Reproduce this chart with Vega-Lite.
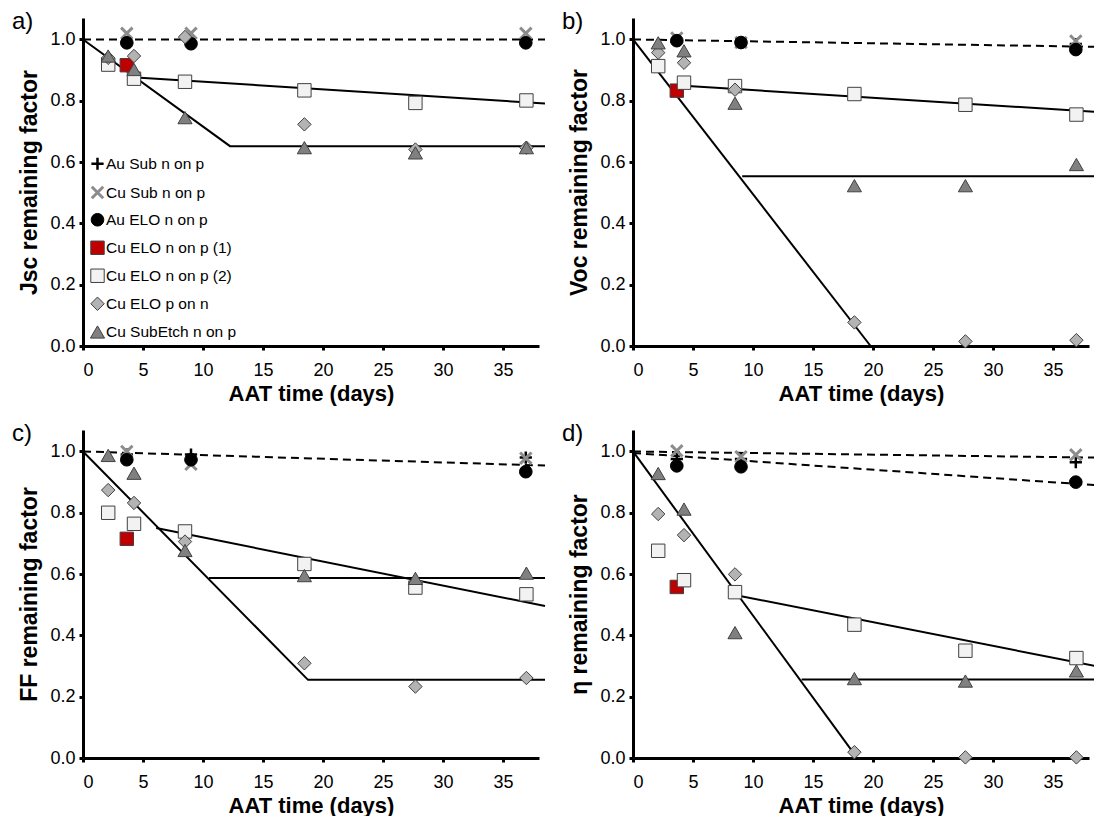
{
  "$schema": "https://vega.github.io/schema/vega-lite/v6.json",
  "background": "white",
  "padding": {"left": 12, "top": 9, "right": 0, "bottom": 0},
  "config": {
    "view": {"stroke": null},
    "font": "Liberation Sans",
    "axis": {"grid": false, "domainColor": "black", "domainWidth": 3, "tickColor": "black", "tickWidth": 3, "tickSize": 4, "labelFontSize": 18, "labelColor": "black", "labelFont": "Liberation Sans", "labelPadding": 4, "titleColor": "black", "titleFont": "Liberation Sans", "titleFontWeight": "bold"},
    "axisX": {"titlePadding": 4, "labelPadding": 11, "titleFontSize": 22},
    "axisY": {"titlePadding": 8, "titleFontSize": 23},
    "title": {"anchor": "start", "frame": "group", "fontSize": 24, "fontWeight": "normal", "font": "Liberation Sans", "color": "black", "baseline": "top", "offset": 0, "dx": -71, "dy": 19.5}
  },
  "datasets": {
    "points": [
      {"p": "a", "s": "Au Sub n on p", "t": 3.65, "v": 0.99},
      {"p": "a", "s": "Au Sub n on p", "t": 9.0, "v": 0.99},
      {"p": "a", "s": "Au Sub n on p", "t": 36.9, "v": 0.99},
      {"p": "a", "s": "Cu Sub n on p", "t": 3.65, "v": 1.02},
      {"p": "a", "s": "Cu Sub n on p", "t": 9.0, "v": 1.02},
      {"p": "a", "s": "Cu Sub n on p", "t": 36.9, "v": 1.02},
      {"p": "a", "s": "Au ELO n on p", "t": 3.65, "v": 0.989},
      {"p": "a", "s": "Au ELO n on p", "t": 9.0, "v": 0.986},
      {"p": "a", "s": "Au ELO n on p", "t": 36.9, "v": 0.989},
      {"p": "a", "s": "Cu ELO n on p (1)", "t": 3.65, "v": 0.916},
      {"p": "a", "s": "Cu ELO n on p (2)", "t": 2.1, "v": 0.918},
      {"p": "a", "s": "Cu ELO n on p (2)", "t": 4.25, "v": 0.872},
      {"p": "a", "s": "Cu ELO n on p (2)", "t": 8.5, "v": 0.862},
      {"p": "a", "s": "Cu ELO n on p (2)", "t": 18.45, "v": 0.834},
      {"p": "a", "s": "Cu ELO n on p (2)", "t": 27.7, "v": 0.793},
      {"p": "a", "s": "Cu ELO n on p (2)", "t": 36.95, "v": 0.801},
      {"p": "a", "s": "Cu ELO p on n", "t": 2.1, "v": 0.94},
      {"p": "a", "s": "Cu ELO p on n", "t": 4.25, "v": 0.946},
      {"p": "a", "s": "Cu ELO p on n", "t": 8.5, "v": 1.008},
      {"p": "a", "s": "Cu ELO p on n", "t": 18.45, "v": 0.723},
      {"p": "a", "s": "Cu ELO p on n", "t": 27.7, "v": 0.641},
      {"p": "a", "s": "Cu ELO p on n", "t": 36.95, "v": 0.647},
      {"p": "a", "s": "Cu SubEtch n on p", "t": 2.1, "v": 0.946},
      {"p": "a", "s": "Cu SubEtch n on p", "t": 4.25, "v": 0.902},
      {"p": "a", "s": "Cu SubEtch n on p", "t": 8.5, "v": 0.745},
      {"p": "a", "s": "Cu SubEtch n on p", "t": 18.45, "v": 0.647},
      {"p": "a", "s": "Cu SubEtch n on p", "t": 27.7, "v": 0.63},
      {"p": "a", "s": "Cu SubEtch n on p", "t": 36.95, "v": 0.647},

      {"p": "b", "s": "Au Sub n on p", "t": 3.65, "v": 0.995},
      {"p": "b", "s": "Au Sub n on p", "t": 9.0, "v": 0.99},
      {"p": "b", "s": "Au Sub n on p", "t": 36.9, "v": 0.985},
      {"p": "b", "s": "Cu Sub n on p", "t": 3.65, "v": 1.005},
      {"p": "b", "s": "Cu Sub n on p", "t": 9.0, "v": 0.99},
      {"p": "b", "s": "Cu Sub n on p", "t": 36.9, "v": 0.995},
      {"p": "b", "s": "Au ELO n on p", "t": 3.65, "v": 0.996},
      {"p": "b", "s": "Au ELO n on p", "t": 9.0, "v": 0.99},
      {"p": "b", "s": "Au ELO n on p", "t": 36.9, "v": 0.967},
      {"p": "b", "s": "Cu ELO n on p (1)", "t": 3.65, "v": 0.833},
      {"p": "b", "s": "Cu ELO n on p (2)", "t": 2.1, "v": 0.913},
      {"p": "b", "s": "Cu ELO n on p (2)", "t": 4.25, "v": 0.859},
      {"p": "b", "s": "Cu ELO n on p (2)", "t": 8.5, "v": 0.848},
      {"p": "b", "s": "Cu ELO n on p (2)", "t": 18.45, "v": 0.822},
      {"p": "b", "s": "Cu ELO n on p (2)", "t": 27.7, "v": 0.787},
      {"p": "b", "s": "Cu ELO n on p (2)", "t": 36.95, "v": 0.755},
      {"p": "b", "s": "Cu ELO p on n", "t": 2.1, "v": 0.957},
      {"p": "b", "s": "Cu ELO p on n", "t": 4.25, "v": 0.924},
      {"p": "b", "s": "Cu ELO p on n", "t": 8.5, "v": 0.836},
      {"p": "b", "s": "Cu ELO p on n", "t": 18.45, "v": 0.077},
      {"p": "b", "s": "Cu ELO p on n", "t": 27.7, "v": 0.015},
      {"p": "b", "s": "Cu ELO p on n", "t": 36.95, "v": 0.019},
      {"p": "b", "s": "Cu SubEtch n on p", "t": 2.1, "v": 0.989},
      {"p": "b", "s": "Cu SubEtch n on p", "t": 4.25, "v": 0.963},
      {"p": "b", "s": "Cu SubEtch n on p", "t": 8.5, "v": 0.792},
      {"p": "b", "s": "Cu SubEtch n on p", "t": 18.45, "v": 0.523},
      {"p": "b", "s": "Cu SubEtch n on p", "t": 27.7, "v": 0.523},
      {"p": "b", "s": "Cu SubEtch n on p", "t": 36.95, "v": 0.592},

      {"p": "c", "s": "Au Sub n on p", "t": 3.65, "v": 0.99},
      {"p": "c", "s": "Au Sub n on p", "t": 9.0, "v": 0.99},
      {"p": "c", "s": "Au Sub n on p", "t": 36.9, "v": 0.98},
      {"p": "c", "s": "Cu Sub n on p", "t": 3.65, "v": 1.0},
      {"p": "c", "s": "Cu Sub n on p", "t": 9.0, "v": 0.958},
      {"p": "c", "s": "Cu Sub n on p", "t": 36.9, "v": 0.978},
      {"p": "c", "s": "Au ELO n on p", "t": 3.65, "v": 0.973},
      {"p": "c", "s": "Au ELO n on p", "t": 9.0, "v": 0.973},
      {"p": "c", "s": "Au ELO n on p", "t": 36.9, "v": 0.934},
      {"p": "c", "s": "Cu ELO n on p (1)", "t": 3.65, "v": 0.715},
      {"p": "c", "s": "Cu ELO n on p (2)", "t": 2.1, "v": 0.8},
      {"p": "c", "s": "Cu ELO n on p (2)", "t": 4.25, "v": 0.764},
      {"p": "c", "s": "Cu ELO n on p (2)", "t": 8.5, "v": 0.739},
      {"p": "c", "s": "Cu ELO n on p (2)", "t": 18.45, "v": 0.633},
      {"p": "c", "s": "Cu ELO n on p (2)", "t": 27.7, "v": 0.556},
      {"p": "c", "s": "Cu ELO n on p (2)", "t": 36.95, "v": 0.534},
      {"p": "c", "s": "Cu ELO p on n", "t": 2.1, "v": 0.874},
      {"p": "c", "s": "Cu ELO p on n", "t": 4.25, "v": 0.832},
      {"p": "c", "s": "Cu ELO p on n", "t": 8.5, "v": 0.706},
      {"p": "c", "s": "Cu ELO p on n", "t": 18.45, "v": 0.309},
      {"p": "c", "s": "Cu ELO p on n", "t": 27.7, "v": 0.233},
      {"p": "c", "s": "Cu ELO p on n", "t": 36.95, "v": 0.261},
      {"p": "c", "s": "Cu SubEtch n on p", "t": 2.1, "v": 0.987},
      {"p": "c", "s": "Cu SubEtch n on p", "t": 4.25, "v": 0.929},
      {"p": "c", "s": "Cu SubEtch n on p", "t": 8.5, "v": 0.677},
      {"p": "c", "s": "Cu SubEtch n on p", "t": 18.45, "v": 0.595},
      {"p": "c", "s": "Cu SubEtch n on p", "t": 27.7, "v": 0.586},
      {"p": "c", "s": "Cu SubEtch n on p", "t": 36.95, "v": 0.603},

      {"p": "d", "s": "Au Sub n on p", "t": 3.65, "v": 0.975},
      {"p": "d", "s": "Au Sub n on p", "t": 9.0, "v": 0.975},
      {"p": "d", "s": "Au Sub n on p", "t": 36.9, "v": 0.965},
      {"p": "d", "s": "Cu Sub n on p", "t": 3.65, "v": 1.002},
      {"p": "d", "s": "Cu Sub n on p", "t": 9.0, "v": 0.983},
      {"p": "d", "s": "Cu Sub n on p", "t": 36.9, "v": 0.989},
      {"p": "d", "s": "Au ELO n on p", "t": 3.65, "v": 0.953},
      {"p": "d", "s": "Au ELO n on p", "t": 9.0, "v": 0.95},
      {"p": "d", "s": "Au ELO n on p", "t": 36.9, "v": 0.9},
      {"p": "d", "s": "Cu ELO n on p (1)", "t": 3.65, "v": 0.558},
      {"p": "d", "s": "Cu ELO n on p (2)", "t": 2.1, "v": 0.676},
      {"p": "d", "s": "Cu ELO n on p (2)", "t": 4.25, "v": 0.58},
      {"p": "d", "s": "Cu ELO n on p (2)", "t": 8.5, "v": 0.541},
      {"p": "d", "s": "Cu ELO n on p (2)", "t": 18.45, "v": 0.435},
      {"p": "d", "s": "Cu ELO n on p (2)", "t": 27.7, "v": 0.35},
      {"p": "d", "s": "Cu ELO n on p (2)", "t": 36.95, "v": 0.326},
      {"p": "d", "s": "Cu ELO p on n", "t": 2.1, "v": 0.796},
      {"p": "d", "s": "Cu ELO p on n", "t": 4.25, "v": 0.727},
      {"p": "d", "s": "Cu ELO p on n", "t": 8.5, "v": 0.599},
      {"p": "d", "s": "Cu ELO p on n", "t": 18.45, "v": 0.019},
      {"p": "d", "s": "Cu ELO p on n", "t": 27.7, "v": 0.002},
      {"p": "d", "s": "Cu ELO p on n", "t": 36.95, "v": 0.002},
      {"p": "d", "s": "Cu SubEtch n on p", "t": 2.1, "v": 0.928},
      {"p": "d", "s": "Cu SubEtch n on p", "t": 4.25, "v": 0.812},
      {"p": "d", "s": "Cu SubEtch n on p", "t": 8.5, "v": 0.409},
      {"p": "d", "s": "Cu SubEtch n on p", "t": 18.45, "v": 0.259},
      {"p": "d", "s": "Cu SubEtch n on p", "t": 27.7, "v": 0.251},
      {"p": "d", "s": "Cu SubEtch n on p", "t": 36.95, "v": 0.284}
    ],
    "lines": [
      {"p": "a", "g": "a0", "k": "dash", "t": 0, "v": 1.0},
      {"p": "a", "g": "a0", "k": "dash", "t": 38.5, "v": 1.0},
      {"p": "a", "g": "a1", "k": "solid", "t": 0, "v": 1.0},
      {"p": "a", "g": "a1", "k": "solid", "t": 12.25, "v": 0.652},
      {"p": "a", "g": "a1", "k": "solid", "t": 38.5, "v": 0.652},
      {"p": "a", "g": "a2", "k": "solid", "t": 4.1, "v": 0.877},
      {"p": "a", "g": "a2", "k": "solid", "t": 38.5, "v": 0.791},
      {"p": "b", "g": "b0", "k": "dash", "t": 0, "v": 1.0},
      {"p": "b", "g": "b0", "k": "dash", "t": 38.5, "v": 0.976},
      {"p": "b", "g": "b1", "k": "solid", "t": 0, "v": 1.0},
      {"p": "b", "g": "b1", "k": "solid", "t": 19.8, "v": 0.0},
      {"p": "b", "g": "b2", "k": "solid", "t": 3.9, "v": 0.85},
      {"p": "b", "g": "b2", "k": "solid", "t": 38.5, "v": 0.764},
      {"p": "b", "g": "b3", "k": "solid", "t": 9.1, "v": 0.554},
      {"p": "b", "g": "b3", "k": "solid", "t": 38.5, "v": 0.554},
      {"p": "c", "g": "c0", "k": "dash", "t": 0, "v": 1.0},
      {"p": "c", "g": "c0", "k": "dash", "t": 38.5, "v": 0.954},
      {"p": "c", "g": "c1", "k": "solid", "t": 0, "v": 1.0},
      {"p": "c", "g": "c1", "k": "solid", "t": 18.75, "v": 0.255},
      {"p": "c", "g": "c1", "k": "solid", "t": 38.5, "v": 0.255},
      {"p": "c", "g": "c2", "k": "solid", "t": 6.1, "v": 0.75},
      {"p": "c", "g": "c2", "k": "solid", "t": 38.5, "v": 0.496},
      {"p": "c", "g": "c3", "k": "solid", "t": 10.5, "v": 0.587},
      {"p": "c", "g": "c3", "k": "solid", "t": 38.5, "v": 0.587},
      {"p": "d", "g": "d0", "k": "dash", "t": 0, "v": 1.0},
      {"p": "d", "g": "d0", "k": "dash", "t": 38.5, "v": 0.98},
      {"p": "d", "g": "d4", "k": "dash", "t": 0, "v": 0.995},
      {"p": "d", "g": "d4", "k": "dash", "t": 38.5, "v": 0.89},
      {"p": "d", "g": "d1", "k": "solid", "t": 0, "v": 1.0},
      {"p": "d", "g": "d1", "k": "solid", "t": 18.4, "v": 0.015},
      {"p": "d", "g": "d2", "k": "solid", "t": 8.5, "v": 0.532},
      {"p": "d", "g": "d2", "k": "solid", "t": 38.5, "v": 0.3},
      {"p": "d", "g": "d3", "k": "solid", "t": 14.05, "v": 0.256},
      {"p": "d", "g": "d3", "k": "solid", "t": 38.5, "v": 0.256}
    ]
  },
  "resolve": {
    "scale": {"shape": "independent", "fill": "independent", "stroke": "independent", "size": "independent", "strokeWidth": "independent"},
    "legend": {"shape": "independent", "fill": "independent", "stroke": "independent", "size": "independent", "strokeWidth": "independent"}
  },
  "vconcat": [
    {
      "resolve": {
        "scale": {"shape": "independent", "fill": "independent", "stroke": "independent", "size": "independent", "strokeWidth": "independent"},
        "legend": {"shape": "independent", "fill": "independent", "stroke": "independent", "size": "independent", "strokeWidth": "independent"}
      },
      "hconcat": [
        {
          "width": 456, "height": 328,
          "title": {"text": "a)"},
          "layer": [
            {"data": {"name": "lines"}, "transform": [{"filter": "datum.p === 'a' && datum.k === 'dash'"}],
             "mark": {"type": "line", "color": "black", "strokeWidth": 2, "strokeDash": [8, 5], "clip": false},
             "encoding": {
               "x": {"field": "t", "type": "quantitative", "scale": {"domain": [0, 38], "nice": false, "zero": false}, "axis": {"title": "AAT time (days)", "values": [0, 2.5, 5, 7.5, 10, 12.5, 15, 17.5, 20, 22.5, 25, 27.5, 30, 32.5, 35, 37.5], "labelExpr": "datum.value % 5 === 0 ? datum.label : ''"}},
               "y": {"field": "v", "type": "quantitative", "scale": {"domain": [0, 1.07], "nice": false}, "axis": {"title": "Jsc remaining factor", "values": [0, 0.1, 0.2, 0.3, 0.4, 0.5, 0.6, 0.7, 0.8, 0.9, 1.0], "labelExpr": "round(datum.value * 10) % 2 === 0 ? format(datum.value, '.1f') : ''"}},
               "detail": {"field": "g"}
             }},
            {"data": {"name": "lines"}, "transform": [{"filter": "datum.p === 'a' && datum.k === 'solid'"}],
             "mark": {"type": "line", "color": "black", "strokeWidth": 2, "clip": false},
             "encoding": {"x": {"field": "t", "type": "quantitative"}, "y": {"field": "v", "type": "quantitative"}, "detail": {"field": "g"}}},
            {"data": {"name": "points"}, "transform": [{"filter": "datum.p === 'a'"}],
             "mark": {"type": "point", "filled": true, "opacity": 1},
             "encoding": {
               "x": {"field": "t", "type": "quantitative"},
               "y": {"field": "v", "type": "quantitative"},
               "shape": {"field": "s", "type": "nominal", "scale": {"domain": ["Au Sub n on p", "Cu Sub n on p", "Au ELO n on p", "Cu ELO n on p (1)", "Cu ELO n on p (2)", "Cu ELO p on n", "Cu SubEtch n on p"], "range": ["M-1,0L1,0M0,-1L0,1", "M-0.85,-0.85L0.85,0.85M-0.85,0.85L0.85,-0.85", "circle", "square", "square", "diamond", "triangle-up"]},
                 "legend": {"title": null, "orient": "none", "legendX": 6, "legendY": 138, "labelFontSize": 15.5, "labelFont": "Liberation Sans", "labelColor": "black", "rowPadding": 3, "gridAlign": "all", "labelOffset": 0, "padding": 0}},
               "fill": {"field": "s", "type": "nominal", "scale": {"domain": ["Au Sub n on p", "Cu Sub n on p", "Au ELO n on p", "Cu ELO n on p (1)", "Cu ELO n on p (2)", "Cu ELO p on n", "Cu SubEtch n on p"], "range": ["#000000", "#8c8c8c", "#000000", "#c00000", "#f2f2f2", "#b3b3b3", "#808080"]}},
               "stroke": {"field": "s", "type": "nominal", "scale": {"domain": ["Au Sub n on p", "Cu Sub n on p", "Au ELO n on p", "Cu ELO n on p (1)", "Cu ELO n on p (2)", "Cu ELO p on n", "Cu SubEtch n on p"], "range": ["#000000", "#8c8c8c", "#000000", "#404040", "#404040", "#404040", "#404040"]}},
               "size": {"field": "s", "type": "ordinal", "scale": {"type": "ordinal", "domain": ["Au Sub n on p", "Cu Sub n on p", "Au ELO n on p", "Cu ELO n on p (1)", "Cu ELO n on p (2)", "Cu ELO p on n", "Cu SubEtch n on p"], "range": [150, 180, 160, 180, 180, 180, 200]}},
               "strokeWidth": {"field": "s", "type": "ordinal", "scale": {"type": "ordinal", "domain": ["Au Sub n on p", "Cu Sub n on p", "Au ELO n on p", "Cu ELO n on p (1)", "Cu ELO n on p (2)", "Cu ELO p on n", "Cu SubEtch n on p"], "range": [2.5, 3, 1, 1, 1, 1, 1]}}
             }}
          ]
        },
        {
          "width": 456, "height": 328,
          "title": {"text": "b)"},
          "layer": [
            {"data": {"name": "lines"}, "transform": [{"filter": "datum.p === 'b' && datum.k === 'dash'"}],
             "mark": {"type": "line", "color": "black", "strokeWidth": 2, "strokeDash": [8, 5], "clip": false},
             "encoding": {
               "x": {"field": "t", "type": "quantitative", "scale": {"domain": [0, 38], "nice": false, "zero": false}, "axis": {"title": "AAT time (days)", "values": [0, 2.5, 5, 7.5, 10, 12.5, 15, 17.5, 20, 22.5, 25, 27.5, 30, 32.5, 35, 37.5], "labelExpr": "datum.value % 5 === 0 ? datum.label : ''"}},
               "y": {"field": "v", "type": "quantitative", "scale": {"domain": [0, 1.07], "nice": false}, "axis": {"title": "Voc remaining factor", "values": [0, 0.1, 0.2, 0.3, 0.4, 0.5, 0.6, 0.7, 0.8, 0.9, 1.0], "labelExpr": "round(datum.value * 10) % 2 === 0 ? format(datum.value, '.1f') : ''"}},
               "detail": {"field": "g"}
             }},
            {"data": {"name": "lines"}, "transform": [{"filter": "datum.p === 'b' && datum.k === 'solid'"}],
             "mark": {"type": "line", "color": "black", "strokeWidth": 2, "clip": false},
             "encoding": {"x": {"field": "t", "type": "quantitative"}, "y": {"field": "v", "type": "quantitative"}, "detail": {"field": "g"}}},
            {"data": {"name": "points"}, "transform": [{"filter": "datum.p === 'b'"}],
             "mark": {"type": "point", "filled": true, "opacity": 1},
             "encoding": {
               "x": {"field": "t", "type": "quantitative"},
               "y": {"field": "v", "type": "quantitative"},
               "shape": {"field": "s", "type": "nominal", "legend": null, "scale": {"domain": ["Au Sub n on p", "Cu Sub n on p", "Au ELO n on p", "Cu ELO n on p (1)", "Cu ELO n on p (2)", "Cu ELO p on n", "Cu SubEtch n on p"], "range": ["M-1,0L1,0M0,-1L0,1", "M-0.85,-0.85L0.85,0.85M-0.85,0.85L0.85,-0.85", "circle", "square", "square", "diamond", "triangle-up"]}},
               "fill": {"field": "s", "type": "nominal", "legend": null, "scale": {"domain": ["Au Sub n on p", "Cu Sub n on p", "Au ELO n on p", "Cu ELO n on p (1)", "Cu ELO n on p (2)", "Cu ELO p on n", "Cu SubEtch n on p"], "range": ["#000000", "#8c8c8c", "#000000", "#c00000", "#f2f2f2", "#b3b3b3", "#808080"]}},
               "stroke": {"field": "s", "type": "nominal", "legend": null, "scale": {"domain": ["Au Sub n on p", "Cu Sub n on p", "Au ELO n on p", "Cu ELO n on p (1)", "Cu ELO n on p (2)", "Cu ELO p on n", "Cu SubEtch n on p"], "range": ["#000000", "#8c8c8c", "#000000", "#404040", "#404040", "#404040", "#404040"]}},
               "size": {"field": "s", "type": "ordinal", "legend": null, "scale": {"type": "ordinal", "domain": ["Au Sub n on p", "Cu Sub n on p", "Au ELO n on p", "Cu ELO n on p (1)", "Cu ELO n on p (2)", "Cu ELO p on n", "Cu SubEtch n on p"], "range": [150, 180, 160, 180, 180, 180, 200]}},
               "strokeWidth": {"field": "s", "type": "ordinal", "legend": null, "scale": {"type": "ordinal", "domain": ["Au Sub n on p", "Cu Sub n on p", "Au ELO n on p", "Cu ELO n on p (1)", "Cu ELO n on p (2)", "Cu ELO p on n", "Cu SubEtch n on p"], "range": [2.5, 3, 1, 1, 1, 1, 1]}}
             }}
          ]
        }
      ],
      "spacing": 13
    },
    {
      "resolve": {
        "scale": {"shape": "independent", "fill": "independent", "stroke": "independent", "size": "independent", "strokeWidth": "independent"},
        "legend": {"shape": "independent", "fill": "independent", "stroke": "independent", "size": "independent", "strokeWidth": "independent"}
      },
      "hconcat": [
        {
          "width": 456, "height": 328,
          "title": {"text": "c)"},
          "layer": [
            {"data": {"name": "lines"}, "transform": [{"filter": "datum.p === 'c' && datum.k === 'dash'"}],
             "mark": {"type": "line", "color": "black", "strokeWidth": 2, "strokeDash": [8, 5], "clip": false},
             "encoding": {
               "x": {"field": "t", "type": "quantitative", "scale": {"domain": [0, 38], "nice": false, "zero": false}, "axis": {"title": "AAT time (days)", "values": [0, 2.5, 5, 7.5, 10, 12.5, 15, 17.5, 20, 22.5, 25, 27.5, 30, 32.5, 35, 37.5], "labelExpr": "datum.value % 5 === 0 ? datum.label : ''"}},
               "y": {"field": "v", "type": "quantitative", "scale": {"domain": [0, 1.07], "nice": false}, "axis": {"title": "FF remaining factor", "values": [0, 0.1, 0.2, 0.3, 0.4, 0.5, 0.6, 0.7, 0.8, 0.9, 1.0], "labelExpr": "round(datum.value * 10) % 2 === 0 ? format(datum.value, '.1f') : ''"}},
               "detail": {"field": "g"}
             }},
            {"data": {"name": "lines"}, "transform": [{"filter": "datum.p === 'c' && datum.k === 'solid'"}],
             "mark": {"type": "line", "color": "black", "strokeWidth": 2, "clip": false},
             "encoding": {"x": {"field": "t", "type": "quantitative"}, "y": {"field": "v", "type": "quantitative"}, "detail": {"field": "g"}}},
            {"data": {"name": "points"}, "transform": [{"filter": "datum.p === 'c'"}],
             "mark": {"type": "point", "filled": true, "opacity": 1},
             "encoding": {
               "x": {"field": "t", "type": "quantitative"},
               "y": {"field": "v", "type": "quantitative"},
               "shape": {"field": "s", "type": "nominal", "legend": null, "scale": {"domain": ["Au Sub n on p", "Cu Sub n on p", "Au ELO n on p", "Cu ELO n on p (1)", "Cu ELO n on p (2)", "Cu ELO p on n", "Cu SubEtch n on p"], "range": ["M-1,0L1,0M0,-1L0,1", "M-0.85,-0.85L0.85,0.85M-0.85,0.85L0.85,-0.85", "circle", "square", "square", "diamond", "triangle-up"]}},
               "fill": {"field": "s", "type": "nominal", "legend": null, "scale": {"domain": ["Au Sub n on p", "Cu Sub n on p", "Au ELO n on p", "Cu ELO n on p (1)", "Cu ELO n on p (2)", "Cu ELO p on n", "Cu SubEtch n on p"], "range": ["#000000", "#8c8c8c", "#000000", "#c00000", "#f2f2f2", "#b3b3b3", "#808080"]}},
               "stroke": {"field": "s", "type": "nominal", "legend": null, "scale": {"domain": ["Au Sub n on p", "Cu Sub n on p", "Au ELO n on p", "Cu ELO n on p (1)", "Cu ELO n on p (2)", "Cu ELO p on n", "Cu SubEtch n on p"], "range": ["#000000", "#8c8c8c", "#000000", "#404040", "#404040", "#404040", "#404040"]}},
               "size": {"field": "s", "type": "ordinal", "legend": null, "scale": {"type": "ordinal", "domain": ["Au Sub n on p", "Cu Sub n on p", "Au ELO n on p", "Cu ELO n on p (1)", "Cu ELO n on p (2)", "Cu ELO p on n", "Cu SubEtch n on p"], "range": [150, 180, 160, 180, 180, 180, 200]}},
               "strokeWidth": {"field": "s", "type": "ordinal", "legend": null, "scale": {"type": "ordinal", "domain": ["Au Sub n on p", "Cu Sub n on p", "Au ELO n on p", "Cu ELO n on p (1)", "Cu ELO n on p (2)", "Cu ELO p on n", "Cu SubEtch n on p"], "range": [2.5, 3, 1, 1, 1, 1, 1]}}
             }}
          ]
        },
        {
          "width": 456, "height": 328,
          "title": {"text": "d)"},
          "layer": [
            {"data": {"name": "lines"}, "transform": [{"filter": "datum.p === 'd' && datum.k === 'dash'"}],
             "mark": {"type": "line", "color": "black", "strokeWidth": 2, "strokeDash": [8, 5], "clip": false},
             "encoding": {
               "x": {"field": "t", "type": "quantitative", "scale": {"domain": [0, 38], "nice": false, "zero": false}, "axis": {"title": "AAT time (days)", "values": [0, 2.5, 5, 7.5, 10, 12.5, 15, 17.5, 20, 22.5, 25, 27.5, 30, 32.5, 35, 37.5], "labelExpr": "datum.value % 5 === 0 ? datum.label : ''"}},
               "y": {"field": "v", "type": "quantitative", "scale": {"domain": [0, 1.07], "nice": false}, "axis": {"title": "η remaining factor", "values": [0, 0.1, 0.2, 0.3, 0.4, 0.5, 0.6, 0.7, 0.8, 0.9, 1.0], "labelExpr": "round(datum.value * 10) % 2 === 0 ? format(datum.value, '.1f') : ''"}},
               "detail": {"field": "g"}
             }},
            {"data": {"name": "lines"}, "transform": [{"filter": "datum.p === 'd' && datum.k === 'solid'"}],
             "mark": {"type": "line", "color": "black", "strokeWidth": 2, "clip": false},
             "encoding": {"x": {"field": "t", "type": "quantitative"}, "y": {"field": "v", "type": "quantitative"}, "detail": {"field": "g"}}},
            {"data": {"name": "points"}, "transform": [{"filter": "datum.p === 'd'"}],
             "mark": {"type": "point", "filled": true, "opacity": 1},
             "encoding": {
               "x": {"field": "t", "type": "quantitative"},
               "y": {"field": "v", "type": "quantitative"},
               "shape": {"field": "s", "type": "nominal", "legend": null, "scale": {"domain": ["Au Sub n on p", "Cu Sub n on p", "Au ELO n on p", "Cu ELO n on p (1)", "Cu ELO n on p (2)", "Cu ELO p on n", "Cu SubEtch n on p"], "range": ["M-1,0L1,0M0,-1L0,1", "M-0.85,-0.85L0.85,0.85M-0.85,0.85L0.85,-0.85", "circle", "square", "square", "diamond", "triangle-up"]}},
               "fill": {"field": "s", "type": "nominal", "legend": null, "scale": {"domain": ["Au Sub n on p", "Cu Sub n on p", "Au ELO n on p", "Cu ELO n on p (1)", "Cu ELO n on p (2)", "Cu ELO p on n", "Cu SubEtch n on p"], "range": ["#000000", "#8c8c8c", "#000000", "#c00000", "#f2f2f2", "#b3b3b3", "#808080"]}},
               "stroke": {"field": "s", "type": "nominal", "legend": null, "scale": {"domain": ["Au Sub n on p", "Cu Sub n on p", "Au ELO n on p", "Cu ELO n on p (1)", "Cu ELO n on p (2)", "Cu ELO p on n", "Cu SubEtch n on p"], "range": ["#000000", "#8c8c8c", "#000000", "#404040", "#404040", "#404040", "#404040"]}},
               "size": {"field": "s", "type": "ordinal", "legend": null, "scale": {"type": "ordinal", "domain": ["Au Sub n on p", "Cu Sub n on p", "Au ELO n on p", "Cu ELO n on p (1)", "Cu ELO n on p (2)", "Cu ELO p on n", "Cu SubEtch n on p"], "range": [150, 180, 160, 180, 180, 180, 200]}},
               "strokeWidth": {"field": "s", "type": "ordinal", "legend": null, "scale": {"type": "ordinal", "domain": ["Au Sub n on p", "Cu Sub n on p", "Au ELO n on p", "Cu ELO n on p (1)", "Cu ELO n on p (2)", "Cu ELO p on n", "Cu SubEtch n on p"], "range": [2.5, 3, 1, 1, 1, 1, 1]}}
             }}
          ]
        }
      ],
      "spacing": 13
    }
  ],
  "spacing": 17
}
